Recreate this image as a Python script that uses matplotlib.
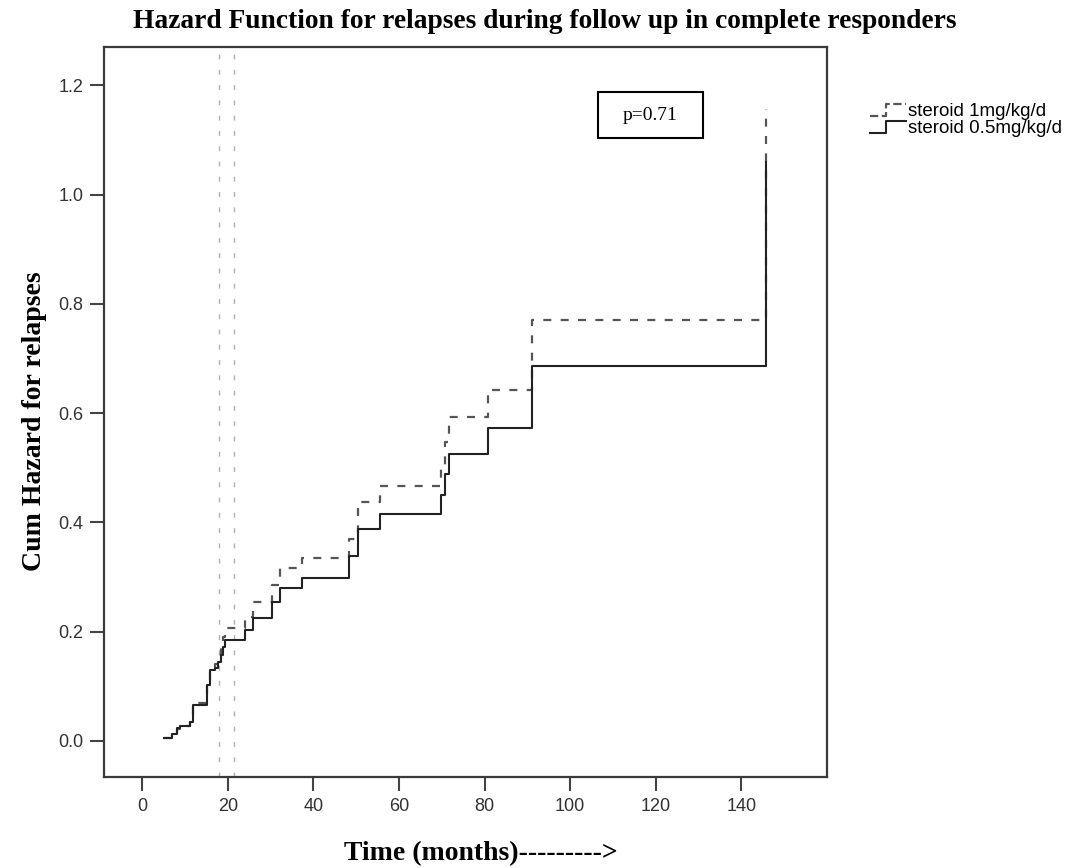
import numpy as np
import matplotlib
matplotlib.use("Agg")
import matplotlib.pyplot as plt
from matplotlib.lines import Line2D
from matplotlib.patches import Rectangle
from matplotlib.legend_handler import HandlerBase

# step times (months) shared by both groups
t = [5.0, 6.9, 8.1, 8.9, 11.2, 11.8, 15.1, 15.9, 17.1, 17.8, 18.4, 18.9, 19.4,
     24.1, 26.0, 30.3, 32.2, 37.3, 48.4, 50.5, 55.6, 69.9, 70.8, 71.6, 80.9,
     91.0, 145.8]
# cumulative hazard, steroid 1mg/kg/d (dashed)
h_1mg = [0.005, 0.012, 0.022, 0.027, 0.036, 0.070, 0.105, 0.130, 0.140, 0.155,
         0.175, 0.190, 0.206, 0.227, 0.255, 0.285, 0.316, 0.334, 0.370, 0.437,
         0.466, 0.500, 0.547, 0.593, 0.643, 0.770, 1.157]
# cumulative hazard, steroid 0.5mg/kg/d (solid)
h_05mg = [0.005, 0.012, 0.023, 0.027, 0.035, 0.066, 0.102, 0.130, 0.133, 0.145,
          0.157, 0.172, 0.185, 0.203, 0.225, 0.254, 0.279, 0.298, 0.339, 0.388,
          0.415, 0.450, 0.488, 0.526, 0.572, 0.686, 1.060]
ref_lines = [18.0, 21.4]
labels = ["steroid 1mg/kg/d", "steroid 0.5mg/kg/d"]
p_text = "p=0.71"


class HandlerStep(HandlerBase):
    # little step glyph like the SPSS legend
    def create_artists(self, legend, orig_handle, xdescent, ydescent,
                       width, height, fontsize, trans):
        x0 = -xdescent
        xs = [x0, x0 + 0.45 * width, x0 + 0.45 * width, x0 + width]
        ys = [0.0 * height, 0.0 * height, 0.9 * height, 0.9 * height]
        ln = Line2D(xs, ys, color=orig_handle.get_color(),
                    linestyle=orig_handle.get_linestyle(),
                    linewidth=orig_handle.get_linewidth())
        ln.set_transform(trans)
        return [ln]


fig = plt.figure(figsize=(10.7, 8.68), dpi=100)
ax = fig.add_axes([104 / 1070, 1 - 777 / 868, (827 - 104) / 1070, (777 - 47) / 868])

for x in ref_lines:
    ax.axvline(x, color="#b0b0b0", lw=1.0, linestyle=(0, (3.5, 7.5)), zorder=1)

l1, = ax.step(t, h_1mg, where="post", color="#555555", lw=1.6,
              linestyle=(0, (3.6, 4.2)), zorder=2)
l2, = ax.step(t, h_05mg, where="post", color="#222222", lw=1.5, zorder=3)

ax.set_xlim(-8.9, 160)
ax.set_ylim(-0.066, 1.27)
ax.set_xticks(np.arange(0, 141, 20))
ax.set_yticks(np.arange(0, 1.21, 0.2))
ax.set_yticklabels([f"{v:.1f}" for v in np.arange(0, 1.21, 0.2)])
ax.tick_params(direction="out", length=10, width=1.5, color="#444444",
               labelsize=13, labelcolor="#333333", pad=5)
for lab in ax.get_xticklabels() + ax.get_yticklabels():
    lab.set_family("Liberation Sans")
for s in ax.spines.values():
    s.set_linewidth(1.6)
    s.set_color("#3a3a3a")

ax.set_xlabel("Time (months)--------->", family="Liberation Serif",
              fontweight="bold", fontsize=20)
ax.set_ylabel("Cum Hazard for relapses", family="Liberation Serif",
              fontweight="bold", fontsize=20)
ax.xaxis.set_label_coords(0.521, -0.088)
ax.yaxis.set_label_coords(-0.079, 0.487)

fig.text(545 / 1070, 1 - 21 / 868,
         "Hazard Function for relapses during follow up in complete responders",
         family="Liberation Serif", fontweight="bold", fontsize=19.8,
         ha="center", va="center")

# p-value box
fig.patches.append(Rectangle((598 / 1070, 1 - 138 / 868), 105 / 1070, 46 / 868,
                             transform=fig.transFigure, fill=False,
                             edgecolor="black", lw=1.5))
fig.text(650.5 / 1070, 1 - 115.5 / 868, p_text, family="Liberation Serif",
         fontsize=14, ha="center", va="center")

fig.legend([l1, l2], labels, handler_map={Line2D: HandlerStep()},
           loc="upper left", bbox_to_anchor=(870 / 1070, 1 - 103 / 868),
           frameon=False, prop={"family": "Liberation Sans", "size": 13.5},
           handlelength=1.9, handletextpad=0.1, labelspacing=0.0,
           borderaxespad=0, borderpad=0)

fig.savefig("out.png", dpi=100, facecolor="white")
